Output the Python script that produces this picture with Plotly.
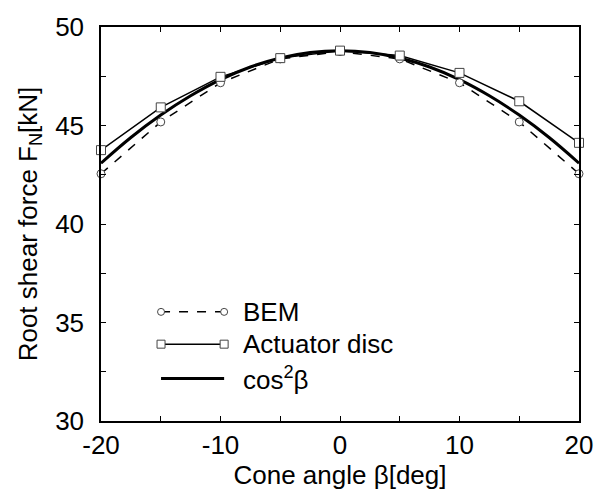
import plotly.graph_objects as go

# Data
angles = [-20, -15, -10, -5, 0, 5, 10, 15, 20]
bem = [42.55, 45.18, 47.17, 48.38, 48.75, 48.38, 47.17, 45.18, 42.55]
actuator = [43.75, 45.92, 47.47, 48.42, 48.80, 48.55, 47.67, 46.23, 44.12]
cos_angles = [-20, -17.5, -15, -12.5, -10, -7.5, -5, -2.5, 0, 2.5, 5, 7.5, 10, 12.5, 15, 17.5, 20]
cos_vals = [43.09, 44.39, 45.53, 46.51, 47.33, 47.97, 48.43, 48.71, 48.80,
            48.71, 48.43, 47.97, 47.33, 46.51, 45.53, 44.39, 43.09]
x_ticks = [-20, -15, -10, -5, 0, 5, 10, 15, 20]
x_ticktext = ["-20", "", "-10", "", "0", "", "10", "", "20"]
y_ticks = [30, 32.5, 35, 37.5, 40, 42.5, 45, 47.5, 50]
y_ticktext = ["30", "", "35", "", "40", "", "45", "", "50"]
legend_labels = ["BEM", "Actuator disc", "cos<sup>2</sup>β"]

FONT = "Liberation Sans, Arial, sans-serif"
FS = 26
fig = go.Figure()
fig.add_trace(go.Scatter(x=cos_angles, y=cos_vals, mode="lines",
                         line=dict(color="black", width=3, shape="spline"),
                         showlegend=False))
fig.add_trace(go.Scatter(x=angles, y=bem, mode="lines+markers",
                         line=dict(color="black", width=1.5, dash="dash"),
                         marker=dict(symbol="circle", size=8, color="white",
                                     line=dict(color="#444", width=1)),
                         cliponaxis=False, showlegend=False))
fig.add_trace(go.Scatter(x=angles, y=actuator, mode="lines+markers",
                         line=dict(color="black", width=1.5),
                         marker=dict(symbol="square", size=9, color="white",
                                     line=dict(color="#444", width=1)),
                         cliponaxis=False, showlegend=False))

# Manual legend (paper coords)
lx0, lx1, ltx = 0.1256, 0.2576, 0.292
ly = [0.277, 0.195, 0.108]
shapes = []
annotations = []
shapes.append(dict(type="line", xref="paper", yref="paper", x0=lx0, x1=lx1, y0=ly[0], y1=ly[0],
                   line=dict(color="black", width=1.5, dash="dash")))
shapes.append(dict(type="line", xref="paper", yref="paper", x0=lx0, x1=lx1, y0=ly[1], y1=ly[1],
                   line=dict(color="black", width=1.5)))
shapes.append(dict(type="line", xref="paper", yref="paper", x0=lx0, x1=lx1, y0=ly[2], y1=ly[2],
                   line=dict(color="black", width=3)))
for xc in (lx0, lx1):
    shapes.append(dict(type="circle", xref="paper", yref="paper", xsizemode="pixel", ysizemode="pixel",
                       xanchor=xc, yanchor=ly[0], x0=-3.5, x1=3.5, y0=-3.5, y1=3.5,
                       fillcolor="white", line=dict(color="#444", width=1)))
    shapes.append(dict(type="rect", xref="paper", yref="paper", xsizemode="pixel", ysizemode="pixel",
                       xanchor=xc, yanchor=ly[1], x0=-4, x1=4, y0=-4, y1=4,
                       fillcolor="white", line=dict(color="#444", width=1)))
for lab, y in zip(legend_labels, ly):
    annotations.append(dict(x=ltx, y=y, xref="paper", yref="paper", text=lab, showarrow=False,
                            xanchor="left", yanchor="middle", font=dict(size=FS, color="black", family=FONT)))

axis_common = dict(showline=True, linecolor="black", linewidth=1.5, mirror="ticks",
                   ticks="inside", ticklen=5, tickwidth=1, tickcolor="black",
                   showgrid=False, zeroline=False,
                   tickfont=dict(size=FS, color="black", family=FONT))
fig.update_layout(
    width=605, height=503,
    margin=dict(l=101, r=17, t=20, b=82),
    paper_bgcolor="white", plot_bgcolor="white",
    shapes=shapes, annotations=annotations,
    xaxis=dict(range=[-20, 20], tickmode="array", tickvals=x_ticks, ticktext=x_ticktext,
               title=dict(text="Cone angle β[deg]", font=dict(size=FS, color="black", family=FONT), standoff=4),
               **axis_common),
    yaxis=dict(range=[30, 50], tickmode="array", tickvals=y_ticks, ticktext=y_ticktext,
               ticklabelstandoff=10,
               title=dict(text="Root shear force F<sub>N</sub>[kN]", font=dict(size=FS, color="black", family=FONT), standoff=10),
               **axis_common),
)
fig.write_html("out.html")
